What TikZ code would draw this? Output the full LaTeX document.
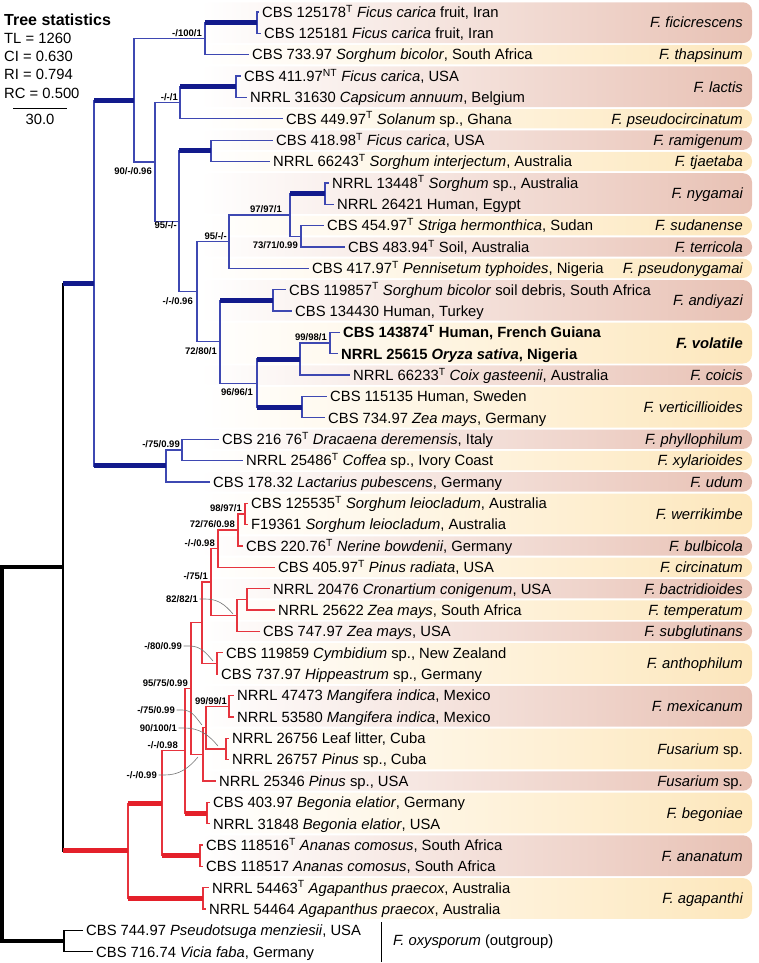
\documentclass[tikz,border=0pt]{standalone}
\usepackage{fontspec}
\setmainfont{Liberation Sans}

% Cores dos ramos e das faixas
\definecolor{azulramo}{RGB}{62,72,178}
\definecolor{azulforte}{RGB}{18,26,140}
\definecolor{vermramo}{RGB}{230,52,62}
\definecolor{vermforte}{RGB}{228,32,42}
\definecolor{faixarosa}{RGB}{232,193,180}
\definecolor{faixaamar}{RGB}{253,231,188}

\newcommand{\supT}{\textsuperscript{T}}
\newcommand{\supNT}{\textsuperscript{NT}}

\begin{document}
\begin{tikzpicture}[x=1pt,y=-1pt,
    leaf/.style={anchor=west, inner xsep=3pt, inner ysep=0pt,
      text height=10.6pt, text depth=0pt, font=\fontsize{14.8}{16}\selectfont},
    especie/.style={anchor=east, inner sep=0pt, text height=10.6pt,
      text depth=0pt, font=\fontsize{14.8}{16}\selectfont\itshape},
    suporte/.style={anchor=east, inner sep=0pt, text height=6.8pt,
      text depth=0pt, font=\fontsize{9.5}{11}\selectfont\bfseries},
    estat/.style={anchor=west, inner sep=0pt, text height=10.6pt,
      text depth=0pt, font=\fontsize{14.8}{16}\selectfont},
    ramoA/.style={draw=azulramo, line width=1.3pt},
    ramoAg/.style={draw=azulforte, line width=5pt},
    ramoV/.style={draw=vermramo, line width=1.3pt},
    ramoVg/.style={draw=vermforte, line width=5pt},
    ramoP/.style={draw=black, line width=1.3pt},
    ramoPg/.style={draw=black, line width=3.5pt},
    guia/.style={draw=black!55, line width=0.6pt},
    faixa/.style={rounded corners=9pt}]
  \useasboundingbox (0,0) rectangle (758,963);

  % Faixas das especies (degrade) e nomes
  \foreach \t/\b/\c/\n [count=\k] in {
      2.3/43.1/faixarosa/{F. ficicrescens},
      45.0/64.4/faixaamar/{F. thapsinum},
      66.4/107.1/faixarosa/{F. lactis},
      109.1/128.5/faixaamar/{F. pseudocircinatum},
      130.5/149.9/faixarosa/{F. ramigenum},
      151.8/171.2/faixaamar/{F. tjaetaba},
      173.2/213.9/faixarosa/{F. nygamai},
      215.9/235.3/faixaamar/{F. sudanense},
      237.3/256.7/faixarosa/{F. terricola},
      258.6/278.0/faixaamar/{F. pseudonygamai},
      280.0/320.7/faixarosa/{F. andiyazi},
      322.7/363.5/faixaamar/{\bfseries F. volatile},
      365.4/384.8/faixarosa/{F. coicis},
      386.8/427.5/faixaamar/{F. verticillioides},
      429.5/448.9/faixarosa/{F. phyllophilum},
      450.9/470.3/faixaamar/{F. xylarioides},
      472.2/491.6/faixarosa/{F. udum},
      493.6/534.3/faixaamar/{F. werrikimbe},
      536.3/555.7/faixarosa/{F. bulbicola},
      557.7/577.1/faixaamar/{F. circinatum},
      579.0/598.4/faixarosa/{F. bactridioides},
      600.4/619.8/faixaamar/{F. temperatum},
      621.7/641.1/faixarosa/{F. subglutinans},
      643.1/683.9/faixaamar/{F. anthophilum},
      685.8/726.6/faixarosa/{F. mexicanum},
      728.5/769.3/faixaamar/{Fusarium {\upshape sp.}},
      771.3/790.7/faixarosa/{Fusarium {\upshape sp.}},
      792.6/833.4/faixaamar/{F. begoniae},
      835.3/876.1/faixarosa/{F. ananatum},
      878.1/918.8/faixaamar/{F. agapanthi}}{
    \shade[faixa, left color=white, right color=\c] (200,\t) rectangle (752,\b);
    \node[especie] (sp\k) at (743,{(\t+\b)/2}) {\n};
  }

  % Estatisticas da arvore
  \node[estat, font=\fontsize{16}{18}\selectfont\bfseries, text height=11.5pt]
    (titulo) at (4,19.5) {Tree statistics};
  \node[estat] (tl) at (4,37.8) {TL = 1260};
  \node[estat] (ci) at (4,55.8) {CI = 0.630};
  \node[estat] (ri) at (4,74.2) {RI = 0.794};
  \node[estat] (rc) at (4,92.8) {RC = 0.500};
  \coordinate (escA) at (13,108.3);
  \coordinate (escB) at (67,108.3);
  \draw[black, line width=1pt] (escA) -- (escB);
  \node[estat, anchor=center] (esc) at (40,119.2) {30.0};

  % Terminais
  \node[leaf] (l1) at (259,12.0) {CBS 125178\supT{} \textit{Ficus carica} fruit, Iran};
  \node[leaf] (l2) at (261,33.4) {CBS 125181 \textit{Ficus carica} fruit, Iran};
  \node[leaf] (l3) at (249,54.7) {CBS 733.97 \textit{Sorghum bicolor}, South Africa};
  \node[leaf] (l4) at (241,76.1) {CBS 411.97\supNT{} \textit{Ficus carica}, USA};
  \node[leaf] (l5) at (247,97.4) {NRRL 31630 \textit{Capsicum annuum}, Belgium};
  \node[leaf] (l6) at (283,118.8) {CBS 449.97\supT{} \textit{Solanum} sp., Ghana};
  \node[leaf] (l7) at (273,140.2) {CBS 418.98\supT{} \textit{Ficus carica}, USA};
  \node[leaf] (l8) at (270,161.5) {NRRL 66243\supT{} \textit{Sorghum interjectum}, Australia};
  \node[leaf] (l9) at (329,182.9) {NRRL 13448\supT{} \textit{Sorghum} sp., Australia};
  \node[leaf] (l10) at (334,204.2) {NRRL 26421 Human, Egypt};
  \node[leaf] (l11) at (324,225.6) {CBS 454.97\supT{} \textit{Striga hermonthica}, Sudan};
  \node[leaf] (l12) at (345,247.0) {CBS 483.94\supT{} Soil, Australia};
  \node[leaf] (l13) at (309,268.3) {CBS 417.97\supT{} \textit{Pennisetum typhoides}, Nigeria};
  \node[leaf] (l14) at (286,289.7) {CBS 119857\supT{} \textit{Sorghum bicolor} soil debris, South Africa};
  \node[leaf] (l15) at (292,311.0) {CBS 134430 Human, Turkey};
  \node[leaf, font=\fontsize{14.8}{16}\selectfont\bfseries] (l16) at (340,332.4) {CBS 143874\supT{} Human, French Guiana};
  \node[leaf, font=\fontsize{14.8}{16}\selectfont\bfseries] (l17) at (338,353.8) {NRRL 25615 \textit{Oryza sativa}, Nigeria};
  \node[leaf] (l18) at (350,375.1) {NRRL 66233\supT{} \textit{Coix gasteenii}, Australia};
  \node[leaf] (l19) at (327,396.5) {CBS 115135 Human, Sweden};
  \node[leaf] (l20) at (325,417.8) {CBS 734.97 \textit{Zea mays}, Germany};
  \node[leaf] (l21) at (219,439.2) {CBS 216 76\supT{} \textit{Dracaena deremensis}, Italy};
  \node[leaf] (l22) at (243,460.6) {NRRL 25486\supT{} \textit{Coffea} sp., Ivory Coast};
  \node[leaf] (l23) at (210,481.9) {CBS 178.32 \textit{Lactarius pubescens}, Germany};
  \node[leaf] (l24) at (248,503.3) {CBS 125535\supT{} \textit{Sorghum leiocladum}, Australia};
  \node[leaf] (l25) at (248,524.6) {F19361 \textit{Sorghum leiocladum}, Australia};
  \node[leaf] (l26) at (243,546.0) {CBS 220.76\supT{} \textit{Nerine bowdenii}, Germany};
  \node[leaf] (l27) at (275,567.4) {CBS 405.97\supT{} \textit{Pinus radiata}, USA};
  \node[leaf] (l28) at (270,588.7) {NRRL 20476 \textit{Cronartium conigenum}, USA};
  \node[leaf] (l29) at (275,610.1) {NRRL 25622 \textit{Zea mays}, South Africa};
  \node[leaf] (l30) at (260,631.4) {CBS 747.97 \textit{Zea mays}, USA};
  \node[leaf] (l31) at (223,652.8) {CBS 119859 \textit{Cymbidium} sp., New Zealand};
  \node[leaf] (l32) at (218,674.2) {CBS 737.97 \textit{Hippeastrum} sp., Germany};
  \node[leaf] (l33) at (234,695.5) {NRRL 47473 \textit{Mangifera indica}, Mexico};
  \node[leaf] (l34) at (234,716.9) {NRRL 53580 \textit{Mangifera indica}, Mexico};
  \node[leaf] (l35) at (229,738.2) {NRRL 26756 Leaf litter, Cuba};
  \node[leaf] (l36) at (229,759.6) {NRRL 26757 \textit{Pinus} sp., Cuba};
  \node[leaf] (l37) at (216,781.0) {NRRL 25346 \textit{Pinus} sp., USA};
  \node[leaf] (l38) at (210,802.3) {CBS 403.97 \textit{Begonia elatior}, Germany};
  \node[leaf] (l39) at (210,823.7) {NRRL 31848 \textit{Begonia elatior}, USA};
  \node[leaf] (l40) at (203,845.0) {CBS 118516\supT{} \textit{Ananas comosus}, South Africa};
  \node[leaf] (l41) at (203,866.4) {CBS 118517 \textit{Ananas comosus}, South Africa};
  \node[leaf] (l42) at (209,887.8) {NRRL 54463\supT{} \textit{Agapanthus praecox}, Australia};
  \node[leaf] (l43) at (206,909.1) {NRRL 54464 \textit{Agapanthus praecox}, Australia};
  \node[leaf] (l44) at (83,930.5) {CBS 744.97 \textit{Pseudotsuga menziesii}, USA};
  \node[leaf] (l45) at (93,951.8) {CBS 716.74 \textit{Vicia faba}, Germany};

  % Nos internos - raiz
  \coordinate (nRaiz) at (1.75,754.0);
  \coordinate (nIn) at (63,567.1);
  \coordinate (nOut) at (64,941.2);
  % Nos internos - clado azul
  \coordinate (nAz) at (94,283.2);
  \coordinate (nA) at (134,100.4);
  \coordinate (n2) at (205,38.7);
  \coordinate (n1) at (257,22.7);
  \coordinate (nB) at (155,162.1);
  \coordinate (n4) at (180,102.8);
  \coordinate (n3) at (236,86.8);
  \coordinate (nC) at (179,221.4);
  \coordinate (n5) at (211,150.9);
  \coordinate (nD) at (197,291.8);
  \coordinate (nE) at (229,241.7);
  \coordinate (nF) at (290,215.0);
  \coordinate (n6) at (325,193.6);
  \coordinate (n7) at (301,236.3);
  \coordinate (nH) at (220,341.8);
  \coordinate (n8) at (273,300.4);
  \coordinate (nI) at (257,383.2);
  \coordinate (nJ) at (300,359.1);
  \coordinate (n9) at (330,343.1);
  \coordinate (nK) at (302,407.2);
  \coordinate (nL) at (166,465.9);
  \coordinate (nM) at (182,449.9);
  % Nos internos - clado vermelho
  \coordinate (nVm) at (128,850.9);
  \coordinate (nP) at (162,803.3);
  \coordinate (n16) at (203,898.5);
  \coordinate (n15) at (200,855.7);
  \coordinate (nQ) at (185,750.8);
  \coordinate (n14) at (207,813.0);
  \coordinate (nX) at (191,688.6);
  \coordinate (nW) at (202,622.8);
  \coordinate (nY2) at (203,754.3);
  \coordinate (nY1) at (206,727.6);
  \coordinate (n12) at (229,706.2);
  \coordinate (n13) at (226,748.9);
  \coordinate (n11) at (217,663.5);
  \coordinate (nT) at (211,582.1);
  \coordinate (nS) at (218,548.7);
  \coordinate (nR) at (238,530.0);
  \coordinate (n10) at (245,514.0);
  \coordinate (nU) at (237,615.4);
  \coordinate (nV) at (247,599.4);

  % Ramos pretos (raiz e grupo externo)
  \draw[ramoPg] (nRaiz) |- (nIn);
  \draw[ramoPg] (nRaiz) |- (nOut);
  \draw[ramoP] (nIn) |- (nAz);
  \draw[ramoP] (nIn) |- (nVm);
  \draw[ramoP] (nOut) |- (l44.west);
  \draw[ramoP] (nOut) |- (l45.west);

  % Ramos - clado azul
  \foreach \p/\c in {nA/n2, nA/nB, n2/n1, n2/l3.west, n1/l1.west, n1/l2.west,
      nB/n4, nB/nC, n4/n3, n4/l6.west, n3/l4.west, n3/l5.west,
      nC/n5, nC/nD, n5/l7.west, n5/l8.west, nD/nE, nD/nH,
      nE/nF, nE/l13.west, nF/n6, nF/n7, n6/l9.west, n6/l10.west,
      n7/l11.west, n7/l12.west, nH/n8, nH/nI, n8/l14.west, n8/l15.west,
      nI/nJ, nI/nK, nJ/n9, nJ/l18.west, n9/l16.west, n9/l17.west,
      nK/l19.west, nK/l20.west, nAz/nA, nAz/nL, nL/nM, nL/l23.west,
      nM/l21.west, nM/l22.west}
    \draw[ramoA] (\p) |- (\c);
  \foreach \p/\c in {nIn/nAz, nAz/nA, nAz/nL, n2/n1, n4/n3, nC/n5, nF/n6,
      nH/n8, nI/nJ, nI/nK}
    \draw[ramoAg] (\p |- \c) -- (\c);

  % Ramos - clado vermelho
  \foreach \p/\c in {nVm/nP, nVm/n16, nP/nQ, nP/n15, n15/l40.west, n15/l41.west,
      n16/l42.west, n16/l43.west, nQ/nX, nQ/n14, n14/l38.west, n14/l39.west,
      nX/nW, nX/nY2, nW/nT, nW/n11, n11/l31.west, n11/l32.west,
      nT/nS, nT/nU, nS/nR, nS/l27.west, nR/n10, nR/l26.west,
      n10/l24.west, n10/l25.west, nU/nV, nU/l30.west, nV/l28.west, nV/l29.west,
      nY2/nY1, nY2/l37.west, nY1/n12, nY1/n13, n12/l33.west, n12/l34.west,
      n13/l35.west, n13/l36.west}
    \draw[ramoV] (\p) |- (\c);
  \foreach \p/\c in {nIn/nVm, nVm/nP, nVm/n16, nP/n15, nQ/n14}
    \draw[ramoVg] (\p |- \c) -- (\c);

  % Valores de suporte
  \node[suporte] (bs1) at (202,32.7) {-/100/1};
  \node[suporte] (bs2) at (178,96.8) {-/-/1};
  \node[suporte] (bs3) at (152,171.5) {90/-/0.96};
  \node[suporte] (bs4) at (177,225.5) {95/-/-};
  \node[suporte] (bs5) at (227,236.0) {95/-/-};
  \node[suporte] (bs6) at (282,209.5) {97/97/1};
  \node[suporte] (bs7) at (298,245.5) {73/71/0.99};
  \node[suporte] (bs8) at (193,301.5) {-/-/0.96};
  \node[suporte] (bs9) at (217,351.0) {72/80/1};
  \node[suporte] (bs10) at (327,337.5) {99/98/1};
  \node[suporte] (bs11) at (253,392.5) {96/96/1};
  \node[suporte] (bs12) at (180,444.5) {-/75/0.99};
  \node[suporte] (bs13) at (242,508.5) {98/97/1};
  \node[suporte] (bs14) at (235,524.5) {72/76/0.98};
  \node[suporte] (bs15) at (215,543.5) {-/-/0.98};
  \node[suporte] (bs16) at (208,576.5) {-/75/1};
  \node[suporte] (bs17) at (198,599.0) {82/82/1};
  \node[suporte] (bs18) at (182,646.0) {-/80/0.99};
  \node[suporte] (bs19) at (188,683.0) {95/75/0.99};
  \node[suporte] (bs20) at (227,701.0) {99/99/1};
  \node[suporte] (bs21) at (175,710.0) {-/75/0.99};
  \node[suporte] (bs22) at (177,728.0) {90/100/1};
  \node[suporte] (bs23) at (178,745.0) {-/-/0.98};
  \node[suporte] (bs24) at (157,775.0) {-/-/0.99};

  % Linhas-guia dos valores
  \coordinate (t17) at (233,614);
  \coordinate (t18) at (213,661);
  \coordinate (t21) at (202,725);
  \coordinate (t22) at (218,746);
  \coordinate (t24) at (198,757);
  \draw[guia] (bs17.east) ++(1.5,0) -- ++(6,0) to[out=0,in=130] (t17);
  \draw[guia] (bs18.east) ++(1.5,0) -- ++(6,0) to[out=0,in=130] (t18);
  \draw[guia] (bs21.east) ++(1.5,0) -- ++(6,0) to[out=0,in=130] (t21);
  \draw[guia] (bs22.east) ++(1.5,0) -- ++(6,0) to[out=0,in=130] (t22);
  \draw[guia] (bs24.east) ++(1.5,0) -- ++(6,0) to[out=0,in=-130] (t24);

  % Grupo externo
  \coordinate (ogA) at (381.5,922);
  \coordinate (ogB) at (381.5,962);
  \draw[black, line width=1.3pt] (ogA) -- (ogB);
  \node[estat] (og) at (393,940) {\textit{F. oxysporum} (outgroup)};
\end{tikzpicture}
\end{document}
